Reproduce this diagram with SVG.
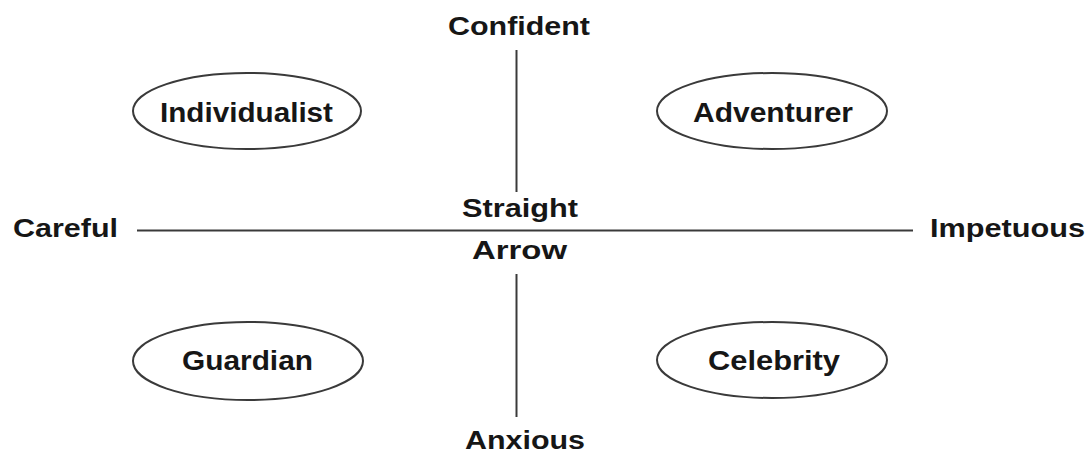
<svg xmlns="http://www.w3.org/2000/svg" width="1091" height="454" viewBox="0 0 1091 454">
<style>
text{font-family:"Liberation Sans",Arial,sans-serif;font-weight:bold;fill:#161616;text-anchor:start}
.ax{font-size:25px}
.nd{font-size:27px}
ellipse{fill:#fff;stroke:#3a3a3a;stroke-width:2}
line{stroke:#3a3a3a;stroke-width:2}
</style>
<rect width="1091" height="454" fill="#fff"/>
<g id="connectors">
<line x1="516.5" y1="50" x2="516.5" y2="192"/>
<line x1="516.5" y1="274" x2="516.5" y2="417"/>
<line x1="137" y1="230.5" x2="913" y2="230.5"/>
</g>
<g id="axis-labels">
<text class="ax" x="448" y="35" textLength="142" lengthAdjust="spacingAndGlyphs">Confident</text>
<text class="ax" x="13" y="237" textLength="105" lengthAdjust="spacingAndGlyphs">Careful</text>
<text class="ax" x="930" y="237" textLength="155" lengthAdjust="spacingAndGlyphs">Impetuous</text>
<text class="ax" x="465" y="449" textLength="120" lengthAdjust="spacingAndGlyphs">Anxious</text>
</g>
<g id="center">
<text class="ax" x="462" y="217" textLength="116" lengthAdjust="spacingAndGlyphs">Straight</text>
<text class="ax" x="472" y="259" textLength="95" lengthAdjust="spacingAndGlyphs">Arrow</text>
</g>
<g id="individualist">
<ellipse cx="247" cy="111" rx="114" ry="38"/>
<text class="nd" x="160" y="122" textLength="173" lengthAdjust="spacingAndGlyphs">Individualist</text>
</g>
<g id="adventurer">
<ellipse cx="772" cy="111" rx="115" ry="38"/>
<text class="nd" x="693" y="122" textLength="160" lengthAdjust="spacingAndGlyphs">Adventurer</text>
</g>
<g id="guardian">
<ellipse cx="248" cy="361" rx="115" ry="39"/>
<text class="nd" x="182" y="370" textLength="131" lengthAdjust="spacingAndGlyphs">Guardian</text>
</g>
<g id="celebrity">
<ellipse cx="772" cy="360" rx="115" ry="38"/>
<text class="nd" x="708" y="370" textLength="132" lengthAdjust="spacingAndGlyphs">Celebrity</text>
</g>
</svg>
